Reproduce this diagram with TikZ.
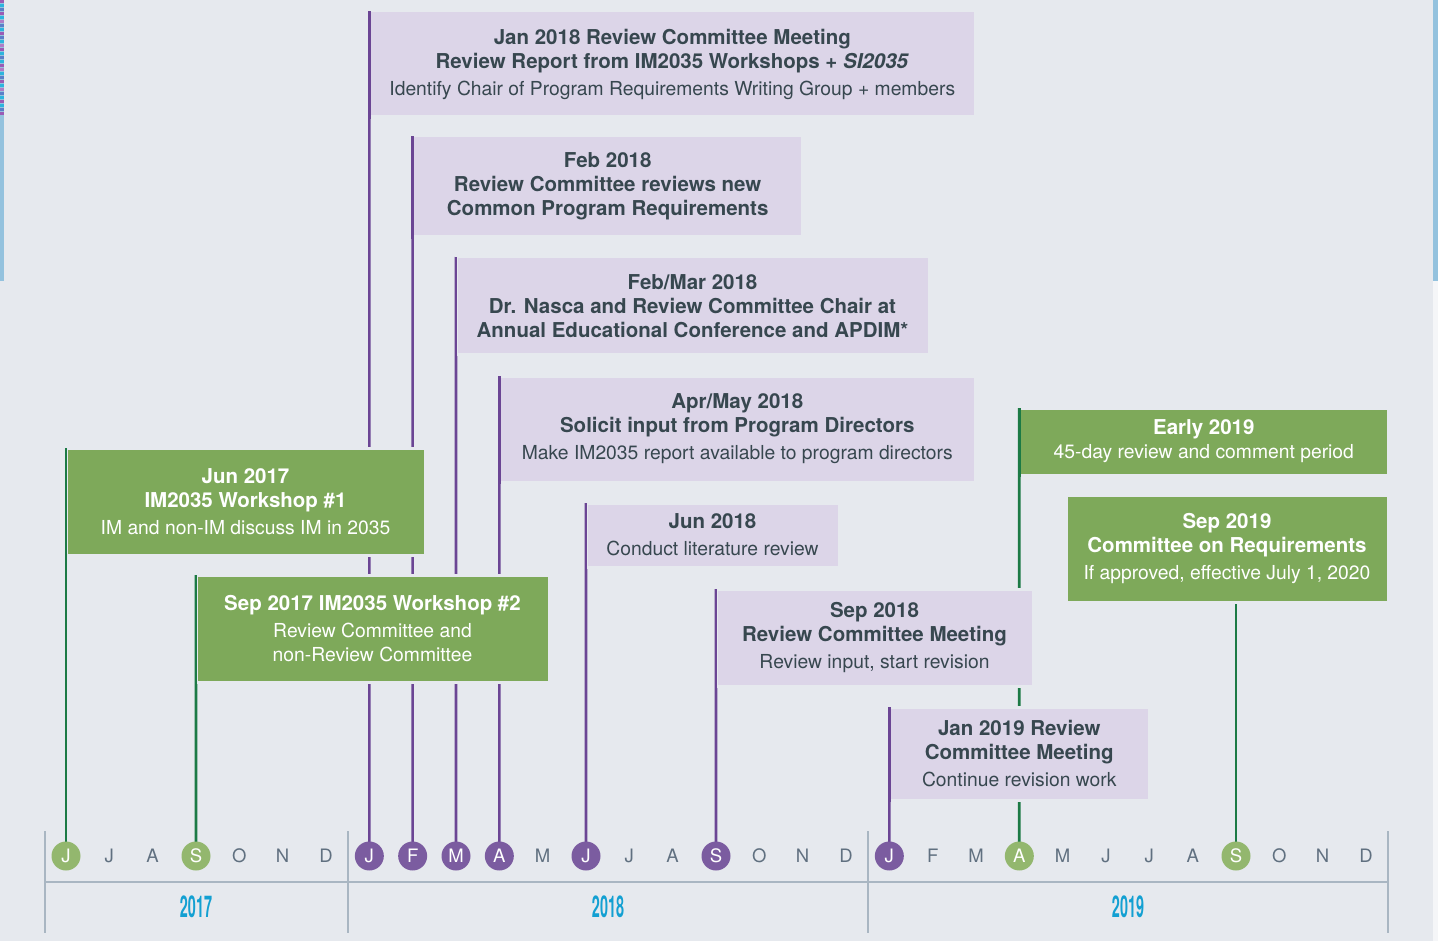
\documentclass[tikz,border=0pt]{standalone}
\usepackage{fontspec}
\setmainfont{TeX Gyre Heros}
\usepackage{graphicx}
\definecolor{bgc}{HTML}{E6E9EE}
\definecolor{pboxc}{HTML}{DCD5E8}
\definecolor{gboxc}{HTML}{7EA95A}
\definecolor{plinec}{HTML}{6B4594}
\definecolor{pdotc}{HTML}{7B5CA0}
\definecolor{glinec}{HTML}{1C7A45}
\definecolor{gdotc}{HTML}{93B76E}
\definecolor{txtc}{HTML}{37474F}
\definecolor{monc}{HTML}{607080}
\definecolor{yearc}{HTML}{13A0D2}
\definecolor{axisc}{HTML}{A9B6C2}
\definecolor{stripc}{HTML}{94C2DE}
\definecolor{sA}{HTML}{9B5BB5}
\definecolor{sB}{HTML}{2DB4DE}
\definecolor{sC}{HTML}{5B7FC9}
\definecolor{sD}{HTML}{B07CC6}
\newcommand\evbold[1]{{\fontsize{20.5}{24}\selectfont\bfseries #1}}
\pgfdeclarelayer{bgl}
\pgfdeclarelayer{lines}
\pgfsetlayers{bgl,lines,main}
\begin{document}
\begin{tikzpicture}[x=1pt,y=-1pt,
  boxbase/.style={anchor=north west, draw=bgc, line width=3pt, inner sep=0pt, outer sep=0pt, align=center,
    font=\fontsize{19.3}{24}\selectfont},
  pbox/.style={boxbase, fill=pboxc, text=txtc},
  gbox/.style={boxbase, fill=gboxc, text=white},
  pline/.style={draw=plinec, line width=2.6pt},
  gline/.style={draw=glinec, line width=2.8pt},
  mon/.style={text=monc, font=\fontsize{18.5}{18}\selectfont, inner sep=0pt},
  pdot/.style={circle, fill=pdotc, minimum size=29pt, inner sep=0pt, text=white, font=\fontsize{18.5}{18}\selectfont},
  gdot/.style={circle, fill=gdotc, minimum size=29pt, inner sep=0pt, text=white, font=\fontsize{18.5}{18}\selectfont},
  axis/.style={draw=axisc, line width=1.5pt},
  yearlbl/.style={text=yearc, font=\fontsize{30}{30}\selectfont\bfseries, inner sep=0pt}
]
\useasboundingbox (0,0) rectangle (1438,941);
\begin{pgfonlayer}{bgl}
\fill[bgc] (0,0) rectangle (1438,941);
\fill[stripc] (0,0) rectangle (4,281);
\fill[stripc] (1433,0) rectangle (1438,281);
\fill[white!60!bgc] (1433,281) rectangle (1438,941);
\foreach \y/\c in {0/sA,4/sB,8/sC,12/sA,16/sB,20/sD,24/sC,28/sB,32/sA,36/sC,40/sB,44/sD,48/sA,52/sB,56/sC,60/sB,64/sA,68/sD,72/sB,76/sC,80/sA,84/sB,88/sD,92/sC,96/sB,100/sA,104/sB,108/sC,112/sA}
  \fill[\c] (0,\y) rectangle (4,\y+3);
\end{pgfonlayer}

% axis
\draw[axis] (45,882) -- (1388,882);
\foreach \x in {45,348,868,1388} \draw[axis] (\x,831) -- (\x,933);
\node[yearlbl] (y17) at (196,907) {\scalebox{0.48}[1]{2017}};
\node[yearlbl] (y18) at (608,907) {\scalebox{0.48}[1]{2018}};
\node[yearlbl] (y19) at (1128,907) {\scalebox{0.48}[1]{2019}};

% months
\foreach \i/\l/\s in {0/J/gdot,1/J/mon,2/A/mon,3/S/gdot,4/O/mon,5/N/mon,6/D/mon,
  7/J/pdot,8/F/pdot,9/M/pdot,10/A/pdot,11/M/mon,12/J/pdot,13/J/mon,14/A/mon,15/S/pdot,16/O/mon,17/N/mon,18/D/mon,
  19/J/pdot,20/F/mon,21/M/mon,22/A/gdot,23/M/mon,24/J/mon,25/J/mon,26/A/mon,27/S/gdot,28/O/mon,29/N/mon,30/D/mon}
  \node[\s] (m\i) at ({66+\i*43.333},856) {\l};

% boxes
\node[pbox, minimum width=606pt, minimum height=106pt] (b1) at (369.3,11)
  {\evbold{Jan 2018 Review Committee Meeting}\\
   \evbold{Review Report from IM2035 Workshops + \textit{SI2035}}\\[3pt]
   Identify Chair of Program Requirements Writing Group + members};
\node[pbox, minimum width=390pt, minimum height=101pt] (b2) at (412.7,136)
  {\evbold{Feb 2018}\\ \evbold{Review Committee reviews new}\\ \evbold{Common Program Requirements}};
\node[pbox, minimum width=473pt, minimum height=98pt] (b3) at (456,257)
  {\evbold{Feb/Mar 2018}\\ \evbold{Dr. Nasca and Review Committee Chair at}\\ \evbold{Annual Educational Conference and APDIM*}};
\node[pbox, minimum width=476pt, minimum height=106pt] (b4) at (499.3,376)
  {\evbold{Apr/May 2018}\\ \evbold{Solicit input from Program Directors}\\[3pt] Make IM2035 report available to program directors};
\node[pbox, minimum width=253pt, minimum height=64pt] (b5) at (586,503)
  {\evbold{Jun 2018}\\[3pt] Conduct literature review};
\node[pbox, minimum width=317pt, minimum height=97pt] (b6) at (716,589)
  {\evbold{Sep 2018}\\ \evbold{Review Committee Meeting}\\[3pt] Review input, start revision};
\node[pbox, minimum width=260pt, minimum height=93pt] (b7) at (889.3,707)
  {\evbold{Jan 2019 Review}\\ \evbold{Committee Meeting}\\[3pt] Continue revision work};
\node[gbox, minimum width=359pt, minimum height=107pt] (b8) at (66,448)
  {\evbold{Jun 2017}\\ \evbold{IM2035 Workshop \#1}\\[3pt] IM and non-IM discuss IM in 2035};
\node[gbox, minimum width=353pt, minimum height=107pt] (b9) at (196,575)
  {\evbold{Sep 2017 IM2035 Workshop \#2}\\[3pt] Review Committee and\\ non-Review Committee};
\node[gbox, minimum width=369pt, minimum height=67pt] (b10) at (1019.3,408)
  {\evbold{Early 2019}\\ 45-day review and comment period};
\node[gbox, minimum width=322pt, minimum height=107pt] (b11) at (1066,495)
  {\evbold{Sep 2019}\\ \evbold{Committee on Requirements}\\[3pt] If approved, effective July 1, 2020};

% connector lines (behind boxes)
\begin{pgfonlayer}{lines}
\draw[gline] (m0.center) -- (b8.north west);
\draw[gline] (m3.center) -- (b9.north west);
\draw[pline] (m7.center) -- (b1.north west);
\draw[pline] (m8.center) -- (b2.north west);
\draw[pline] (m9.center) -- (b3.north west);
\draw[pline] (m10.center) -- (b4.north west);
\draw[pline] (m12.center) -- (b5.north west);
\draw[pline] (m15.center) -- (b6.north west);
\draw[pline] (m19.center) -- (b7.north west);
\draw[gline] (m22.center) -- (b10.north west);
\draw[gline] (m27.center) -- (m27.center |- b11.south);
\end{pgfonlayer}

% own-edge segments on top of boxes
\draw[gline, shorten <=-2pt] (b8.south west) -- (b8.north west);
\draw[gline, shorten <=-2pt] (b9.south west) -- (b9.north west);
\draw[pline, shorten <=-2pt] (b1.south west) -- (b1.north west);
\draw[pline, shorten <=-2pt] (b2.south west) -- (b2.north west);
\draw[pline, shorten <=-2pt] (b3.south west) -- (b3.north west);
\draw[pline, shorten <=-2pt] (b4.south west) -- (b4.north west);
\draw[pline, shorten <=-2pt] (b5.south west) -- (b5.north west);
\draw[pline, shorten <=-2pt] (b6.south west) -- (b6.north west);
\draw[pline, shorten <=-2pt] (b7.south west) -- (b7.north west);
\draw[gline, shorten <=-2pt] (b10.south west) -- (b10.north west);
\end{tikzpicture}
\end{document}
